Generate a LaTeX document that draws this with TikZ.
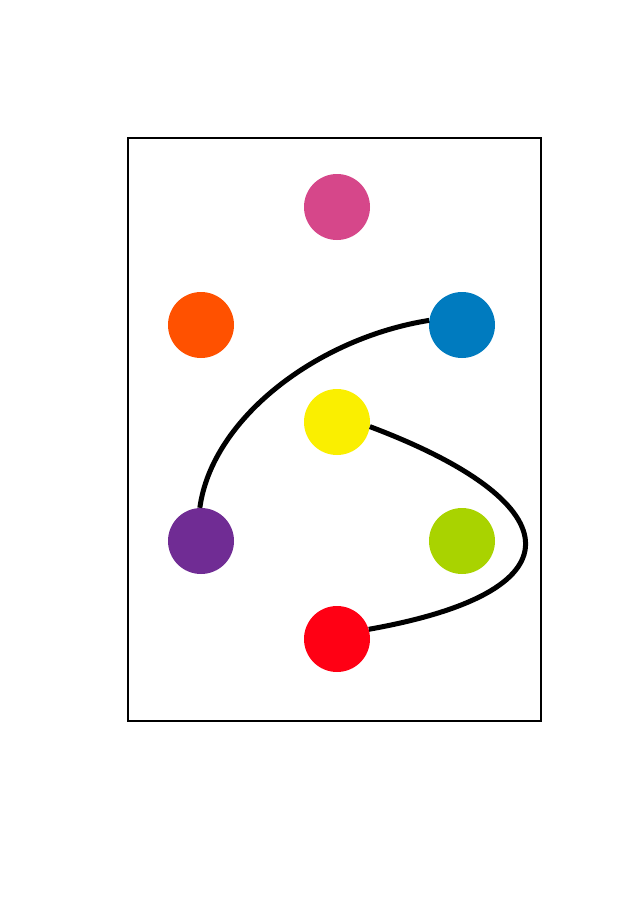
\documentclass[tikz,border=0pt]{standalone}
\begin{document}
\begin{tikzpicture}[x=1pt,y=-1pt,
  dot/.style={circle,inner sep=0pt,minimum size=66pt,fill=#1},
  link/.style={line width=5pt,draw=black}]
\definecolor{cpink}{HTML}{D6478A}
\definecolor{corange}{HTML}{FF5100}
\definecolor{cblue}{HTML}{007BBF}
\definecolor{cyellow}{HTML}{FAEF00}
\definecolor{cpurple}{HTML}{702C94}
\definecolor{clime}{HTML}{A9D300}
\definecolor{cred}{HTML}{FF0014}
\useasboundingbox (0,0) rectangle (636,900);
\fill[white] (0,0) rectangle (636,900);
\node[draw,line width=2.4pt,minimum width=413pt,minimum height=583pt,inner sep=0pt] (frame) at (334.5,429.5) {};
\node[dot=cpink] (pink) at (337,207) {};
\node[dot=corange] (orange) at (201,325) {};
\node[dot=cblue] (blue) at (462,325) {};
\node[dot=cyellow] (yellow) at (337,422) {};
\node[dot=cpurple] (purple) at (201,541) {};
\node[dot=clime] (lime) at (462,541) {};
\node[dot=cred] (red) at (337,639) {};
\draw[link] (blue.172) .. controls (318,338) and (212,418) .. (purple.92);
\draw[link] (yellow.-8) .. controls (565,500) and (590,590) .. (red.17);
\end{tikzpicture}
\end{document}
